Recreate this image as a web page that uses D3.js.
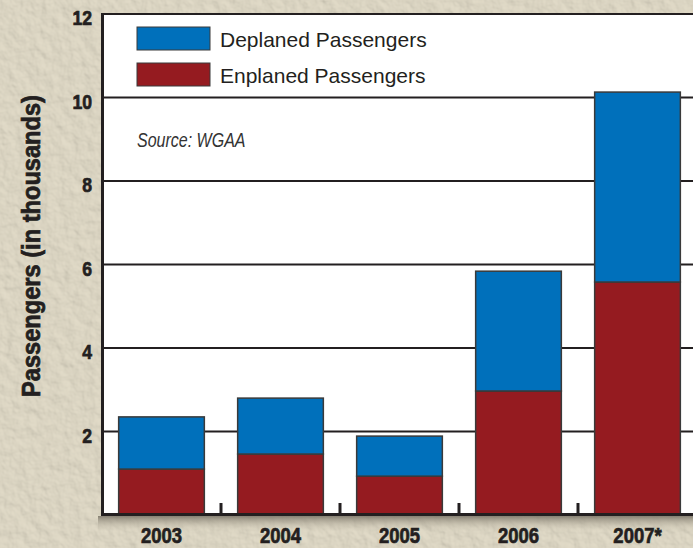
<!DOCTYPE html>
<html>
<head>
<meta charset="utf-8">
<script src="https://cdn.jsdelivr.net/npm/d3@7"></script>
<style>
  html, body { margin: 0; padding: 0; background: #d8d1bd; }
  svg { display: block; }
</style>
</head>
<body>
<svg id="chart" width="693" height="548"></svg>
<script>
// Data (thousands of passengers)
const years = ["2003", "2004", "2005", "2006", "2007*"];
const enplaned = [1.10, 1.46, 0.93, 2.97, 5.58];
const deplaned = [1.25, 1.34, 0.96, 2.87, 4.55];
const yTicks = [2, 4, 6, 8, 10, 12];
const seriesNames = ["Deplaned Passengers", "Enplaned Passengers"];

const blue = "#0070bb", red = "#951b20", ink = "#231f20";
const sans = "'Liberation Sans', Arial, Helvetica, sans-serif";

const svg = d3.select("#chart");
const W = 693, H = 548;

// parchment texture + shadow under the axis
const defs = svg.append("defs");
const tex = defs.append("filter").attr("id", "paper").attr("x", 0).attr("y", 0).attr("width", "100%").attr("height", "100%");
tex.append("feTurbulence").attr("type", "fractalNoise").attr("baseFrequency", 0.09)
    .attr("numOctaves", 3).attr("seed", 4).attr("result", "noise");
tex.append("feDiffuseLighting").attr("in", "noise").attr("lighting-color", "#ebe5d3")
    .attr("surfaceScale", 1.6).attr("result", "light")
  .append("feDistantLight").attr("azimuth", 135).attr("elevation", 60);
tex.append("feComposite").attr("in", "light").attr("in2", "SourceGraphic").attr("operator", "in");

const shadow = defs.append("linearGradient").attr("id", "shadow")
    .attr("x1", 0).attr("y1", 0).attr("x2", 0).attr("y2", 1);
shadow.append("stop").attr("offset", "0%").attr("stop-color", "#7d776a").attr("stop-opacity", 0.9);
shadow.append("stop").attr("offset", "100%").attr("stop-color", "#d8d1bd").attr("stop-opacity", 0);

svg.append("rect").attr("width", W).attr("height", H).attr("fill", "#d8d1bd");
svg.append("rect").attr("width", W).attr("height", H).attr("fill", "#d8d1bd")
    .attr("filter", "url(#paper)").attr("opacity", 0.55);
svg.append("rect").attr("x", 98).attr("y", 516).attr("width", W).attr("height", 16)
    .attr("fill", "url(#shadow)");

const x = d3.scaleBand().domain(years).range([102, 697]).paddingInner(0.28).paddingOuter(0.14);
const y = d3.scaleLinear().domain([0, 12]).range([515, 14]);

// plot area
svg.append("rect")
    .attr("x", 102).attr("y", y(12))
    .attr("width", 697 - 102).attr("height", y(0) - y(12))
    .attr("fill", "#fff");

// gridlines
svg.append("g").selectAll("line").data(yTicks).join("line")
    .attr("x1", 102).attr("x2", 697)
    .attr("y1", d => y(d)).attr("y2", d => y(d))
    .attr("stroke", ink).attr("stroke-width", 2);

// stacked bars
const rows = years.map((yr, i) => ({ year: yr, enplaned: enplaned[i], deplaned: deplaned[i] }));
const stack = d3.stack().keys(["enplaned", "deplaned"])(rows);
const colors = { enplaned: red, deplaned: blue };

svg.append("g").selectAll("g").data(stack).join("g")
    .attr("fill", d => colors[d.key])
    .selectAll("rect").data(d => d).join("rect")
    .attr("x", d => x(d.data.year))
    .attr("width", x.bandwidth())
    .attr("y", d => y(d[1]))
    .attr("height", d => y(d[0]) - y(d[1]))
    .attr("stroke", "#3a3a3a").attr("stroke-width", 1.5);

// separator ticks on x axis
const sepTicks = years.slice(1).map(yr => x(yr) - x.step() * x.paddingInner() / 2);
svg.append("g").selectAll("line").data(sepTicks).join("line")
    .attr("x1", d => d).attr("x2", d => d)
    .attr("y1", 503).attr("y2", 515)
    .attr("stroke", ink).attr("stroke-width", 3);

// axis lines
svg.append("line").attr("x1", 102.5).attr("x2", 102.5).attr("y1", y(12) - 1).attr("y2", 516)
    .attr("stroke", ink).attr("stroke-width", 3);
svg.append("line").attr("x1", 101).attr("x2", 697).attr("y1", 514.5).attr("y2", 514.5)
    .attr("stroke", ink).attr("stroke-width", 3);

// heavy condensed look for axis text
function heavy(sel) {
  sel.attr("font-family", sans).attr("font-weight", "bold").attr("fill", ink)
     .attr("stroke", ink).attr("stroke-width", 0.7).attr("paint-order", "stroke");
}

// y tick labels
svg.append("g").selectAll("text").data(yTicks).join("text")
    .attr("transform", d => `translate(92,${y(d) + 11}) scale(0.84,1)`)
    .attr("text-anchor", "end")
    .attr("font-size", 21)
    .call(heavy)
    .text(d => d);

// x labels
svg.append("g").selectAll("text").data(years).join("text")
    .attr("transform", d => `translate(${x(d) + x.bandwidth() / 2},543) scale(0.84,1)`)
    .attr("text-anchor", "middle")
    .attr("font-size", 22)
    .call(heavy)
    .text(d => d);

// y axis title
svg.append("text")
    .attr("transform", "translate(40,246) rotate(-90)")
    .attr("text-anchor", "middle")
    .attr("font-size", 25)
    .call(heavy)
    .attr("textLength", 302).attr("lengthAdjust", "spacingAndGlyphs")
    .text("Passengers (in thousands)");

// legend
const legend = svg.append("g").selectAll("g").data(seriesNames).join("g")
    .attr("transform", (d, i) => `translate(137,${27 + i * 36})`);
legend.append("rect")
    .attr("width", 73).attr("height", 23)
    .attr("fill", (d, i) => i === 0 ? blue : red)
    .attr("stroke", "#3a3a3a").attr("stroke-width", 1);
legend.append("text")
    .attr("x", 83).attr("y", 20)
    .attr("font-family", sans)
    .attr("font-size", 21).attr("fill", ink)
    .text(d => d);

// source note
svg.append("text")
    .attr("transform", "translate(137,147) scale(0.8,1)")
    .attr("font-family", sans).attr("font-style", "italic")
    .attr("font-size", 20).attr("fill", "#333")
    .text("Source: WGAA");
</script>
</body>
</html>
